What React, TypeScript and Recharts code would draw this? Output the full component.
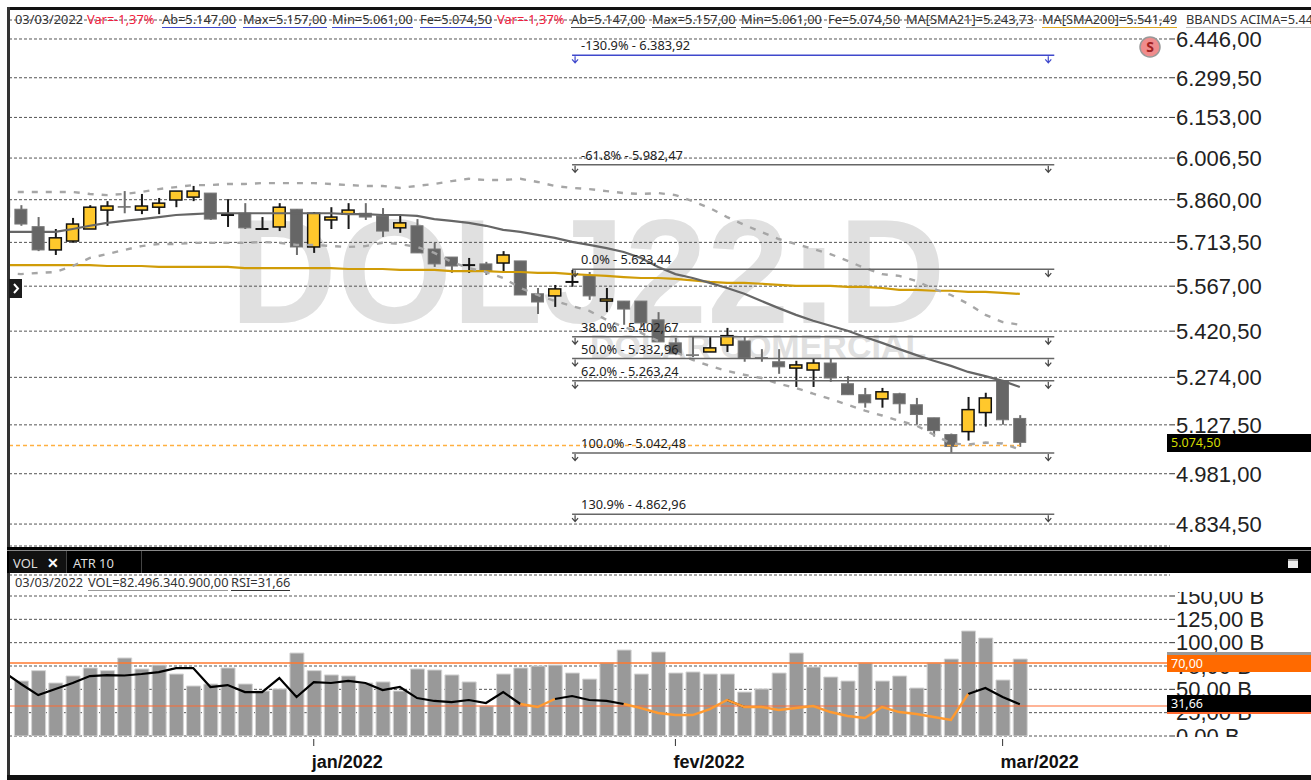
import React from "react";
import {
  Bar,
  CartesianGrid,
  ComposedChart,
  Line,
  ReferenceLine,
  XAxis,
  YAxis,
} from "recharts";

// candles, first one is cut by the left edge of the panel
const opens = [5859, 5827, 5767, 5688, 5718, 5759, 5824, 5836, 5824, 5834, 5859, 5869, 5883, 5807, 5813, 5759, 5766, 5827, 5698, 5790, 5810, 5813, 5804, 5763, 5770, 5691, 5664, 5637, 5641, 5644, 5651, 5542, 5535, 5581, 5601, 5518, 5518, 5518, 5457, 5383, 5345, 5354, 5376, 5389, 5336, 5323, 5303, 5297, 5319, 5254, 5220, 5207, 5223, 5189, 5149, 5098, 5107, 5165, 5263, 5147];
const highs = [5859, 5841, 5800, 5759, 5797, 5841, 5855, 5890, 5880, 5866, 5890, 5908, 5883, 5862, 5848, 5800, 5848, 5827, 5817, 5834, 5848, 5848, 5831, 5804, 5793, 5712, 5664, 5661, 5648, 5684, 5651, 5561, 5571, 5621, 5614, 5561, 5518, 5518, 5482, 5399, 5402, 5402, 5431, 5402, 5363, 5363, 5326, 5332, 5332, 5278, 5241, 5241, 5226, 5210, 5149, 5101, 5213, 5226, 5266, 5157];
const lows = [5800, 5770, 5684, 5671, 5712, 5759, 5770, 5813, 5810, 5810, 5834, 5855, 5790, 5766, 5759, 5756, 5752, 5671, 5678, 5759, 5759, 5790, 5732, 5746, 5678, 5631, 5611, 5611, 5604, 5611, 5538, 5476, 5499, 5565, 5522, 5482, 5441, 5434, 5386, 5344, 5338, 5354, 5354, 5323, 5323, 5285, 5244, 5244, 5260, 5220, 5180, 5180, 5162, 5128, 5092, 5044, 5080, 5122, 5128, 5061];
const closes = [5800, 5776, 5688, 5729, 5776, 5834, 5838, 5834, 5838, 5848, 5890, 5890, 5793, 5807, 5763, 5759, 5834, 5698, 5813, 5800, 5824, 5800, 5752, 5780, 5678, 5641, 5634, 5637, 5617, 5671, 5538, 5515, 5558, 5581, 5535, 5525, 5492, 5447, 5386, 5348, 5343, 5367, 5406, 5335, 5334, 5307, 5313, 5319, 5272, 5220, 5195, 5229, 5192, 5159, 5110, 5062, 5174, 5210, 5143, 5074.5];

const sma21 = [5749, 5749, 5749, 5749, 5759, 5770, 5780, 5787, 5793, 5800, 5807, 5810, 5813, 5813, 5813, 5813, 5813, 5813, 5813, 5813, 5810, 5810, 5807, 5807, 5804, 5793, 5787, 5780, 5770, 5756, 5749, 5739, 5729, 5715, 5705, 5694, 5681, 5661, 5631, 5607, 5594, 5578, 5561, 5542, 5518, 5495, 5473, 5454, 5438, 5422, 5402, 5383, 5363, 5344, 5326, 5310, 5291, 5278, 5263, 5243.73];
const sma200 = [5637, 5637, 5637, 5637, 5637, 5637, 5634, 5634, 5634, 5631, 5631, 5631, 5631, 5631, 5627, 5627, 5627, 5627, 5627, 5627, 5624, 5624, 5624, 5621, 5621, 5621, 5617, 5617, 5617, 5614, 5614, 5611, 5611, 5607, 5604, 5601, 5597, 5594, 5594, 5591, 5586, 5581, 5578, 5578, 5575, 5571, 5568, 5568, 5568, 5565, 5565, 5561, 5555, 5555, 5552, 5552, 5548, 5548, 5545, 5541.49];
const bbUpper = [5887, 5887, 5887, 5887, 5887, 5880, 5876, 5880, 5887, 5897, 5904, 5911, 5911, 5915, 5915, 5918, 5918, 5918, 5918, 5915, 5911, 5908, 5908, 5901, 5908, 5915, 5925, 5933, 5929, 5929, 5933, 5922, 5908, 5901, 5897, 5890, 5883, 5880, 5883, 5876, 5855, 5831, 5800, 5773, 5749, 5725, 5708, 5691, 5674, 5651, 5627, 5607, 5601, 5584, 5558, 5538, 5509, 5473, 5450, 5441];
const bbLower = [5611, 5607, 5611, 5614, 5634, 5661, 5674, 5688, 5701, 5708, 5708, 5712, 5712, 5712, 5712, 5715, 5712, 5705, 5705, 5701, 5698, 5701, 5712, 5708, 5698, 5678, 5648, 5627, 5614, 5594, 5561, 5538, 5518, 5502, 5486, 5457, 5434, 5415, 5389, 5354, 5329, 5310, 5294, 5282, 5272, 5254, 5241, 5223, 5207, 5189, 5171, 5156, 5140, 5125, 5098, 5071, 5068, 5074, 5071, 5053];

// billions
const volumes = [null, 58.9, 70, 56.8, 64.3, 72.9, 70, 83.6, 71.8, 76, 66.4, 53.6, 55.7, 72.9, 55.7, 48.2, 50.4, 88.9, 70, 65.4, 64.3, 56.8, 57.9, 48.2, 71.8, 70.7, 65.4, 57.9, 32.1, 66.4, 72.9, 75, 76, 67.5, 61, 78.2, 92.1, 66.4, 90, 67.5, 68.6, 66.4, 66.4, 47.1, 50.4, 67.5, 88.9, 73.9, 63.2, 58.9, 78.2, 58.9, 64.3, 51.4, 78.2, 82.5, 112.5, 105, 60, 82.5];
const rsi = [61.6, 50.5, 40.2, 45.8, 51.4, 57.9, 58.8, 58.4, 59.8, 61.6, 65.3, 65.3, 47.7, 49.5, 43, 43, 56, 38.4, 52.3, 51.4, 53.3, 51.4, 44.9, 47.7, 37.4, 34.7, 33.7, 35.6, 32.8, 43, 31.9, 29.1, 36.5, 39.3, 35.6, 34.7, 31.9, 28.1, 23.5, 21.6, 21.6, 27.2, 35.6, 29.1, 29.1, 26.3, 28.1, 30, 24.4, 20.7, 18.8, 29.1, 24.4, 22.6, 19.8, 17, 41.2, 46.7, 38.4, 31.66];
// stretches of the rsi line drawn in orange, by session index
const rsiOrangeRanges = [[29, 31], [35, 41], [42, 55]];

const priceTicks = [6446, 6299.5, 6153, 6006.5, 5860, 5713.5, 5567, 5420.5, 5274, 5127.5, 4981, 4834.5];
const volumeTicks = [0, 25, 50, 75, 100, 125, 150];
const monthTicks = [17, 38, 57];
const monthLabels = ["jan/2022", "fev/2022", "mar/2022"];

const fibNames = ["-130.9%", "-61.8%", "0.0%", "38.0%", "50.0%", "62.0%", "100.0%", "130.9%"];
const fibPrices = [6383.92, 5982.47, 5623.44, 5402.67, 5332.96, 5263.24, 5042.48, 4862.96];

const WIDTH = 1311;
const X_DOMAIN: [number, number] = [-0.697, 66.72];
const SANS = "'Liberation Sans', Arial, sans-serif";
const UI = "'Noto Sans', sans-serif";

const money = (v: number) =>
  new Intl.NumberFormat("pt-BR", { minimumFractionDigits: 2, maximumFractionDigits: 2 }).format(v);

const inOrange = (i: number) => rsiOrangeRanges.some(([a, b]) => i >= a && i <= b);
const inBlack = (i: number) =>
  !rsiOrangeRanges.some(([a, b]) => i > a && i < b);

const rows = opens.map((open, k) => {
  const i = k - 1;
  const close = closes[k];
  return {
    i,
    open,
    close,
    wick: [lows[k], highs[k]],
    body: [Math.min(open, close), Math.max(open, close)],
    sma21: sma21[k],
    sma200: sma200[k],
    bbUpper: bbUpper[k],
    bbLower: bbLower[k],
    volume: volumes[k],
    rsiBlack: inBlack(i) ? rsi[k] : null,
    rsiOrange: inOrange(i) ? rsi[k] : null,
  };
});

function CandleBody(props: any) {
  const { x, y, width, height, payload } = props;
  const top = Math.min(y, y + height);
  const h = Math.abs(height);
  if (payload.open === payload.close) {
    return <rect x={x} y={top - 1} width={width} height={2} fill="#111" />;
  }
  const up = payload.close > payload.open;
  return (
    <rect
      x={x + 0.5}
      y={top}
      width={width - 1}
      height={h}
      fill={up ? "#ffc82c" : "#666666"}
      stroke={up ? "#111" : "#777"}
      strokeWidth={up ? 1.5 : 1}
    />
  );
}

function CandleWick(props: any) {
  const { x, y, width, height, payload } = props;
  const dark = payload.close >= payload.open;
  return <rect x={x} y={y} width={width} height={height} fill={dark ? "#1a1a1a" : "#6e6e6e"} />;
}

function FibLabel(props: any) {
  const { viewBox, text, color } = props;
  const { x, y, width } = viewBox;
  const arrow = (ax: number) => (
    <path d={`M${ax} ${y + 1}V${y + 7}M${ax - 3} ${y + 4}L${ax} ${y + 7.5}L${ax + 3} ${y + 4}`} stroke={color} strokeWidth={1.2} fill="none" />
  );
  return (
    <g>
      <text x={x + 9} y={y - 5} fontFamily={UI} fontSize={12.8} fill="#222">
        {text}
      </text>
      {arrow(x + 3)}
      {arrow(x + width - 6)}
    </g>
  );
}

function MonthTick(props: any) {
  const { x, y, payload } = props;
  return (
    <g>
      <line x1={x} x2={x} y1={y - 5} y2={y + 2} stroke="#333" />
      <text x={x - 2} y={y + 24} fontFamily={SANS} fontWeight={700} fontSize={18} fill="#111">
        {monthLabels[monthTicks.indexOf(payload.value)]}
      </text>
    </g>
  );
}

const headerItems = [
  { text: "03/03/2022", left: 15, color: "#333", line: "" },
  { text: "Var=-1,37%", left: 87, color: "#f0203c", line: "" },
  { text: "Ab=5.147,00", left: 162, color: "#333", line: "#3f48cc" },
  { text: "Max=5.157,00", left: 243, color: "#333", line: "#3f48cc" },
  { text: "Min=5.061,00", left: 332, color: "#333", line: "#3f48cc" },
  { text: "Fe=5.074,50", left: 420, color: "#333", line: "#3f48cc" },
  { text: "Var=-1,37%", left: 497, color: "#f0203c", line: "" },
  { text: "Ab=5.147,00", left: 571, color: "#333", line: "#444" },
  { text: "Max=5.157,00", left: 652, color: "#333", line: "#444" },
  { text: "Min=5.061,00", left: 741, color: "#333", line: "#444" },
  { text: "Fe=5.074,50", left: 828, color: "#333", line: "#444" },
  { text: "MA[SMA21]=5.243,73", left: 906, color: "#333", line: "#888" },
  { text: "MA[SMA200]=5.541,49", left: 1042, color: "#333", line: "#d9a520" },
  { text: "BBANDS ACIMA=5.441,12", left: 1186, color: "#333", line: "#bbb" },
];

const volumeItems = [
  { text: "03/03/2022", left: 15, color: "#333", line: "" },
  { text: "VOL=82.496.340.900,00", left: 88, color: "#333", line: "#999" },
  { text: "RSI=31,66", left: 231, color: "#333", line: "#333" },
];

function InfoRow({ items, top }: { items: typeof headerItems; top: number }) {
  return (
    <>
      {items.map((it, n) => (
        <span
          key={n}
          style={{
            position: "absolute",
            left: it.left,
            top,
            font: `12.8px ${UI}`,
            lineHeight: "15px",
            color: it.color,
            whiteSpace: "nowrap",
            borderBottom: it.line ? `1.5px solid ${it.line}` : "none",
          }}
        >
          {it.text}
        </span>
      ))}
    </>
  );
}

function box(left: number, top: number, width: number, height: number, background: string): React.CSSProperties {
  return { position: "absolute", left, top, width, height, background };
}

export default function App() {
  return (
    <div style={{ position: "absolute", left: 0, top: 0, width: WIDTH, height: 780, overflow: "hidden", background: "#fff" }}>
      {/* watermark sits behind the transparent chart */}
      <div style={{ position: "absolute", left: 230, top: 192, font: `700 148px ${SANS}`, lineHeight: "160px", color: "#e0e0e0", whiteSpace: "nowrap" }}>
        DOLJ22:D
      </div>
      <div style={{ position: "absolute", left: 590, top: 328, font: `700 34px ${SANS}`, lineHeight: "36px", color: "#e0e0e0", whiteSpace: "nowrap" }}>
        DOLAR COMERCIAL
      </div>

      <div style={{ position: "absolute", left: 0, top: 0 }}>
        <ComposedChart width={WIDTH} height={547} data={rows} margin={{ top: 20, right: 0, bottom: 1, left: 9 }}>
          <CartesianGrid vertical={false} stroke="#555" strokeDasharray="3 2" />
          <XAxis xAxisId="main" dataKey="i" type="number" domain={X_DOMAIN} allowDataOverflow hide />
          <XAxis xAxisId="wick" dataKey="i" type="number" domain={X_DOMAIN} allowDataOverflow hide />
          <YAxis
            orientation="right"
            type="number"
            scale="log"
            domain={[4772, 6519]}
            allowDataOverflow
            ticks={priceTicks}
            interval={0}
            width={141}
            tickSize={5}
            tickMargin={1}
            axisLine={false}
            tickLine={{ stroke: "#333" }}
            tick={{ fontFamily: SANS, fontSize: 22, fill: "#222" }}
            tickFormatter={money}
          />
          <ReferenceLine
            xAxisId="main"
            segment={[{ x: -0.697, y: 5065 }, { x: 58, y: 5065 }]}
            stroke="#ffb040"
            strokeWidth={1.5}
            strokeDasharray="4 3"
          />
          <Bar xAxisId="wick" dataKey="wick" barSize={2} shape={CandleWick} isAnimationActive={false} />
          <Bar xAxisId="main" dataKey="body" barSize={13} shape={CandleBody} isAnimationActive={false} />
          <Line xAxisId="main" dataKey="sma200" stroke="#d09c08" strokeWidth={2.2} dot={false} isAnimationActive={false} />
          <Line xAxisId="main" dataKey="sma21" stroke="#666" strokeWidth={2.2} dot={false} isAnimationActive={false} />
          <Line xAxisId="main" dataKey="bbUpper" stroke="#a6a6a6" strokeWidth={2.4} strokeDasharray="6 8" dot={false} isAnimationActive={false} />
          <Line xAxisId="main" dataKey="bbLower" stroke="#a6a6a6" strokeWidth={2.4} strokeDasharray="6 8" dot={false} isAnimationActive={false} />
          {fibPrices.map((price, n) => {
            const color = n === 0 ? "#3f48cc" : "#666";
            return (
              <ReferenceLine
                key={n}
                xAxisId="main"
                segment={[{ x: 32, y: price }, { x: 60, y: price }]}
                stroke={color}
                strokeWidth={1.5}
                label={<FibLabel text={`${fibNames[n]} - ${money(price)}`} color={n === 0 ? color : "#444"} />}
              />
            );
          })}
        </ComposedChart>
      </div>

      <div style={{ position: "absolute", left: 0, top: 573 }}>
        <ComposedChart width={WIDTH} height={202} data={rows} margin={{ top: 2, right: 0, bottom: 0, left: 9 }}>
          <CartesianGrid vertical={false} stroke="#555" strokeDasharray="3 2" />
          <XAxis
            dataKey="i"
            type="number"
            domain={X_DOMAIN}
            allowDataOverflow
            ticks={monthTicks}
            interval={0}
            height={39}
            axisLine={false}
            tickLine={false}
            tick={MonthTick}
          />
          <YAxis
            orientation="right"
            type="number"
            domain={[0, 172.5]}
            allowDataOverflow
            ticks={volumeTicks}
            interval={0}
            width={141}
            tickSize={5}
            tickMargin={1}
            axisLine={false}
            tickLine={{ stroke: "#333" }}
            tick={{ fontFamily: SANS, fontSize: 22, fill: "#222" }}
            tickFormatter={(v: number) => `${money(v)} B`}
          />
          <YAxis yAxisId="rsi" hide type="number" domain={[2.1, 151.9]} allowDataOverflow />
          <Bar dataKey="volume" barSize={14} fill="#999" stroke="#d4d4d4" isAnimationActive={false} />
          <ReferenceLine yAxisId="rsi" y={70} stroke="#ff7a30" strokeWidth={1.5} />
          <ReferenceLine yAxisId="rsi" y={30} stroke="#ff6a30" strokeWidth={1.2} />
          <Line yAxisId="rsi" dataKey="rsiBlack" stroke="#000" strokeWidth={2.2} dot={false} connectNulls={false} isAnimationActive={false} />
          <Line yAxisId="rsi" dataKey="rsiOrange" stroke="#ff9a30" strokeWidth={2.4} dot={false} connectNulls={false} isAnimationActive={false} />
        </ComposedChart>
      </div>

      {/* terminal chrome */}
      <div style={box(7, 7, WIDTH, 3, "#111")} />
      <div style={box(7, 7, 2.5, 773, "#333")} />
      <div style={box(7, 775, WIDTH, 5, "#111")} />
      <div style={box(7, 547, WIDTH, 26, "#000")} />
      <div style={box(7, 550, WIDTH, 1, "#888")} />
      <div style={box(9, 551, 57, 22, "#111")} />
      <div style={box(66, 551, 1, 22, "#444")} />
      <div style={box(141, 551, 1, 22, "#444")} />
      <span style={{ position: "absolute", left: 13, top: 555, font: `13px ${UI}`, lineHeight: "16px", color: "#ddd" }}>VOL</span>
      <span style={{ position: "absolute", left: 47, top: 554, font: `700 14px ${UI}`, lineHeight: "18px", color: "#fff" }}>✕</span>
      <span style={{ position: "absolute", left: 73, top: 555, font: `13px ${UI}`, lineHeight: "16px", color: "#ddd" }}>ATR 10</span>
      <div style={{ ...box(1288, 559, 10, 9, "#eee"), borderTop: "2px solid #999", boxSizing: "border-box" }} />

      {/* the volume scale is cut at both ends of its panel */}
      <div style={box(1172, 573, 139, 19, "#fff")} />
      <div style={box(1172, 737, 139, 38, "#fff")} />

      <InfoRow items={headerItems} top={12} />
      <InfoRow items={volumeItems} top={575} />

      <div style={box(9, 279, 13, 19, "#1c1c1c")} />
      <svg style={{ position: "absolute", left: 9, top: 279 }} width={13} height={19}>
        <path d="M5 5L9 9.5L5 14" stroke="#fff" strokeWidth={2} fill="none" />
      </svg>

      <svg style={{ position: "absolute", left: 1138, top: 35 }} width={24} height={24}>
        <circle cx={12} cy={12} r={10} fill="#f08c8c" stroke="#999" strokeWidth={1.5} />
        <text x={12} y={17} textAnchor="middle" fontFamily={UI} fontWeight={700} fontSize={14} fill="#a02020">S</text>
      </svg>

      <div style={{ ...box(1167, 434, 144, 18, "#000"), font: `12.5px ${UI}`, lineHeight: "18px", color: "#d4dc00", paddingLeft: 4, boxSizing: "border-box" }}>
        5.074,50
      </div>
      <div style={box(1167, 652, 144, 3, "#999")} />
      <div style={{ ...box(1167, 655, 144, 17, "#ff6a00"), font: `12.5px ${UI}`, lineHeight: "17px", color: "#fff", paddingLeft: 4, boxSizing: "border-box" }}>
        70,00
      </div>
      <div style={{ ...box(1167, 695, 144, 17, "#000"), font: `12.5px ${UI}`, lineHeight: "17px", color: "#fff", paddingLeft: 4, boxSizing: "border-box" }}>
        31,66
      </div>
      <div style={box(1167, 712, 144, 2, "#ff6a30")} />
    </div>
  );
}
